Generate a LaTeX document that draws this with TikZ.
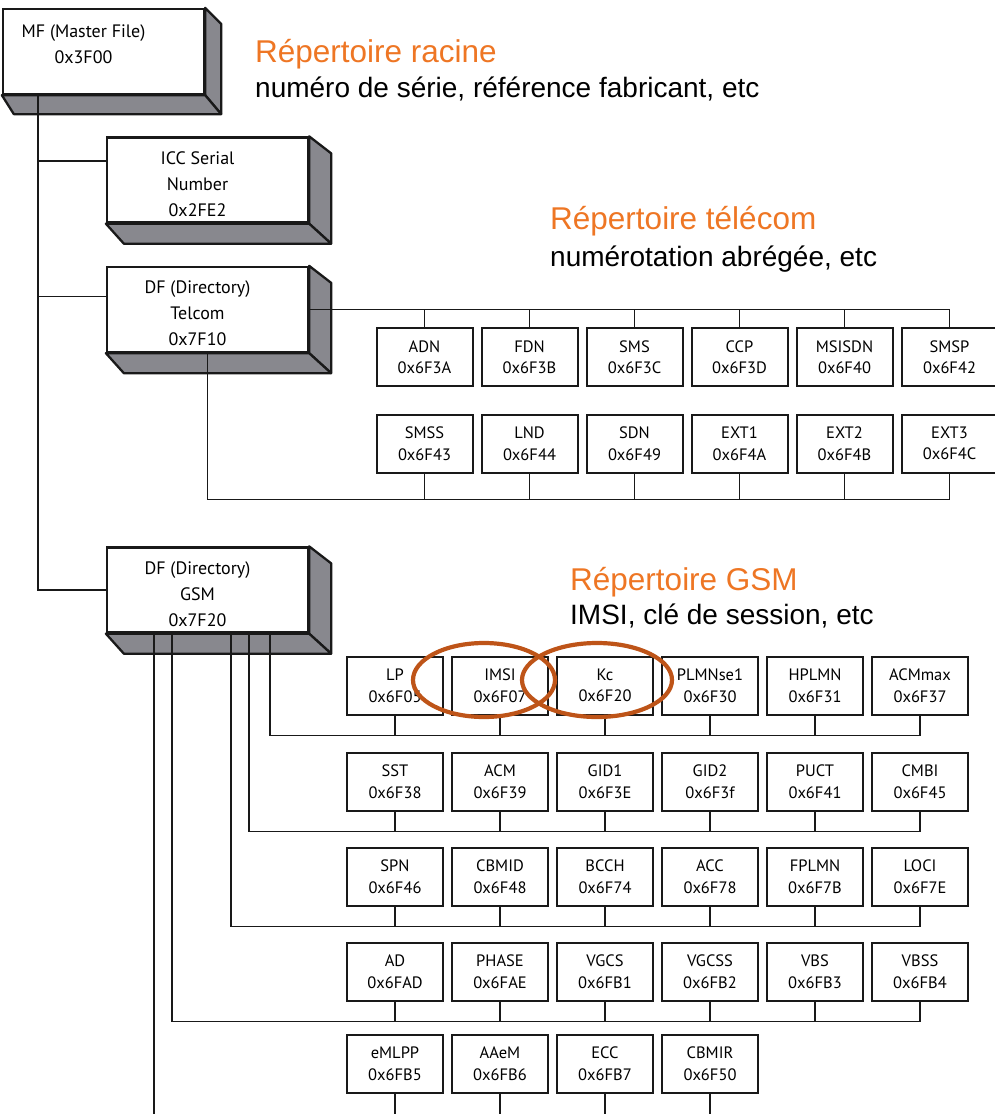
\documentclass[tikz,border=0pt]{standalone}
\usepackage{fontspec}
\setmainfont{Liberation Sans}
\newfontfamily\boxfont{PT Sans}
\usetikzlibrary{calc,shapes.geometric}
\definecolor{titleorange}{RGB}{238,118,36}
\definecolor{ringorange}{RGB}{190,84,24}
\definecolor{facegray}{RGB}{136,136,142}
\tikzset{
  wire/.style={line width=1.8pt, draw=black!90},
  efbox/.style={draw=black!90, line width=2pt, fill=white, minimum width=96pt,
    minimum height=58pt, inner sep=0pt, align=center,
    font=\boxfont\fontsize{16.5}{21.5}\selectfont},
  dfbox/.style={draw=black!90, line width=2.3pt, fill=white, minimum width=201pt,
    minimum height=85pt, inner sep=0pt},
  dflabel/.style={align=center, inner sep=0pt, font=\boxfont\fontsize{18}{26}\selectfont},
  face/.style={fill=facegray, draw=black!90, line width=2.3pt, line join=round},
  ring/.style={draw=ringorange, line width=4.2pt, ellipse, inner sep=0pt},
  title/.style={anchor=base west, text=titleorange, inner sep=0pt,
    font=\fontsize{31.5}{36}\selectfont},
  subtitle/.style={anchor=base west, inner sep=0pt, font=\fontsize{28}{32}\selectfont},
}
\begin{document}
\begin{tikzpicture}[x=1pt,y=-1pt]
\useasboundingbox (0,0) rectangle (994,1114);
\coordinate (floor) at (0,1114);

% dedicated files and directories (front faces)
\node[dfbox, label={[dflabel, xshift=-20pt, yshift=7pt]center:{MF (Master File)\\0x3F00}}] (mf) at (103.5,51.5) {};
\node[dfbox, label={[dflabel, xshift=-10pt, yshift=-4pt]center:{ICC Serial\\Number\\0x2FE2}}] (icc) at (207.5,180) {};
\node[dfbox, label={[dflabel, xshift=-10pt, yshift=-4pt]center:{DF (Directory)\\Telcom\\0x7F10}}] (tel) at (207.5,309.5) {};
\node[dfbox, label={[dflabel, xshift=-10pt, yshift=-4pt]center:{DF (Directory)\\GSM\\0x7F20}}] (gsm) at (207.5,590) {};

% depth faces of the 3D boxes
\foreach \n/\dx/\dy in {mf/16/19, icc/22/20, tel/22/20, gsm/22/20}{
  \filldraw[face] (\n.north east) -- ++(\dx,{\dy-3}) -- ($(\n.south east)+(\dx,\dy)$) -- (\n.south east) -- cycle;
  \filldraw[face] (\n.south west) -- (\n.south east) -- ($(\n.south east)+(\dx,\dy)$) -- ($(\n.south west)+({\dx-4},\dy)$) -- cycle;
}

% telecom elementary files
\foreach \lab/\hex [count=\i from 0] in {ADN/0x6F3A, FDN/0x6F3B, SMS/0x6F3C, CCP/0x6F3D, MSISDN/0x6F40, SMSP/0x6F42}
  \node[efbox] (ta\i) at ({424.5+105*\i},357) {\lab\\\hex};
\foreach \lab/\hex [count=\i from 0] in {SMSS/0x6F43, LND/0x6F44, SDN/0x6F49, EXT1/0x6F4A, EXT2/0x6F4B, EXT3/0x6F4C}
  \node[efbox] (tb\i) at ({424.5+105*\i},443.5) {\lab\\\hex};

% GSM elementary files
\foreach \lab/\hex [count=\i from 0] in {LP/0x6F05, IMSI/0x6F07, Kc/0x6F20, PLMNse1/0x6F30, HPLMN/0x6F31, ACMmax/0x6F37}
  \node[efbox] (g1-\i) at ({395+105*\i},685.5) {\lab\\\hex};
\foreach \lab/\hex [count=\i from 0] in {SST/0x6F38, ACM/0x6F39, GID1/0x6F3E, GID2/0x6F3f, PUCT/0x6F41, CMBI/0x6F45}
  \node[efbox] (g2-\i) at ({395+105*\i},781.5) {\lab\\\hex};
\foreach \lab/\hex [count=\i from 0] in {SPN/0x6F46, CBMID/0x6F48, BCCH/0x6F74, ACC/0x6F78, FPLMN/0x6F7B, LOCI/0x6F7E}
  \node[efbox] (g3-\i) at ({395+105*\i},876.5) {\lab\\\hex};
\foreach \lab/\hex [count=\i from 0] in {AD/0x6FAD, PHASE/0x6FAE, VGCS/0x6FB1, VGCSS/0x6FB2, VBS/0x6FB3, VBSS/0x6FB4}
  \node[efbox] (g4-\i) at ({395+105*\i},971.5) {\lab\\\hex};
\foreach \lab/\hex [count=\i from 0] in {eMLPP/0x6FB5, AAeM/0x6FB6, ECC/0x6FB7, CBMIR/0x6F50}
  \node[efbox] (g5-\i) at ({395+105*\i},1063.5) {\lab\\\hex};

% master file trunk
\coordinate (mfstem) at ($(mf.south west)+(36,0)$);
\coordinate (iccin) at ($(icc.north west)!0.28!(icc.south west)$);
\coordinate (telin) at ($(tel.north west)!0.35!(tel.south west)$);
\draw[wire] (mfstem) |- (gsm.west);
\draw[wire] (mfstem |- iccin) -- (iccin);
\draw[wire] (mfstem |- telin) -- (telin);

% telecom buses
\draw[wire] (tel.east) -- (tel.east -| ta5.north) -- (ta5.north);
\foreach \i in {0,...,4}
  \draw[wire] (tel.east -| ta\i.north) -- (ta\i.north);
\coordinate (tbus) at ($(tb5.south)+(0,26)$);
\draw[wire] (tel.south) |- (tbus);
\foreach \i in {0,...,5}
  \draw[wire] (tb\i.south) -- (tb\i.south |- tbus);

% GSM buses
\foreach \r/\off in {1/164, 2/143, 3/125, 4/66}{
  \coordinate (s\r) at ($(gsm.south west)+(\off,0)$);
  \coordinate (bus\r) at ($(g\r-5.south)+(0,20)$);
  \draw[wire] (s\r) |- (bus\r);
  \foreach \i in {0,...,5}
    \draw[wire] (g\r-\i.south) -- (g\r-\i.south |- bus\r);
}
\coordinate (s5) at ($(gsm.south west)+(48,0)$);
\draw[wire] (s5) -- (s5 |- floor);
\foreach \i in {0,...,3}
  \draw[wire] (g5-\i.south) -- (g5-\i.south |- floor);

% highlighted files
\node[ring, minimum width=142pt, minimum height=74pt] (imsiring) at (484,680) {};
\node[ring, minimum width=150pt, minimum height=74pt] (kcring) at (597,680) {};

% captions
\node[title] (rootT) at (255,62) {Répertoire racine};
\node[subtitle] (rootS) at (255,97) {numéro de série, référence fabricant, etc};
\node[title] (telT) at (550,229) {Répertoire télécom};
\node[subtitle] (telS) at (550,266) {numérotation abrégée, etc};
\node[title] (gsmT) at (570,590) {Répertoire GSM};
\node[subtitle] (gsmS) at (570,624) {IMSI, clé de session, etc};
\end{tikzpicture}
\end{document}
